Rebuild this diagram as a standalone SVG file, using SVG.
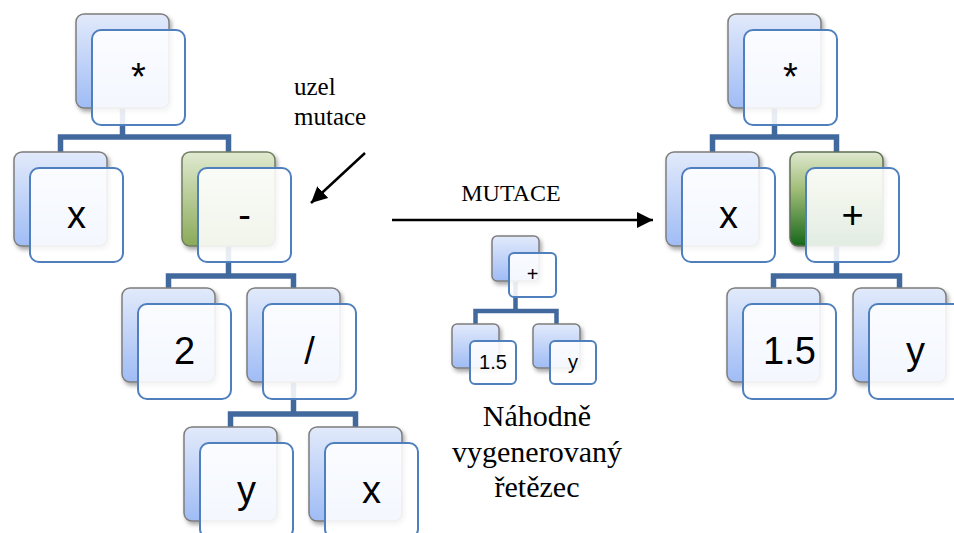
<svg xmlns="http://www.w3.org/2000/svg" width="954" height="533" viewBox="0 0 954 533">
  <defs>
    <linearGradient id="gBlue" x1="0" y1="0" x2="0" y2="1">
      <stop offset="0" stop-color="#e2eafb"/>
      <stop offset="1" stop-color="#9fbcf5"/>
    </linearGradient>
    <linearGradient id="gGreenLight" x1="0" y1="0" x2="0" y2="1">
      <stop offset="0" stop-color="#e0ead0"/>
      <stop offset="1" stop-color="#8aaa58"/>
    </linearGradient>
    <linearGradient id="gGreenDark" x1="0" y1="0" x2="0" y2="1">
      <stop offset="0" stop-color="#dfe8cf"/>
      <stop offset="0.4" stop-color="#a0bd78"/>
      <stop offset="1" stop-color="#16661a"/>
    </linearGradient>
    <filter id="shadow" x="-20%" y="-20%" width="150%" height="150%">
      <feDropShadow dx="2" dy="3" stdDeviation="2" flood-color="#000" flood-opacity="0.35"/>
    </filter>
    <marker id="arrow" markerUnits="userSpaceOnUse" markerWidth="18" markerHeight="16" refX="16" refY="8" orient="auto">
      <path d="M0,0 L16,8 L0,16 z" fill="#000"/>
    </marker>
  </defs>
  <style>
    .back { stroke: #7d7d7d; stroke-width: 1.5; filter: url(#shadow); }
    .blue { fill: url(#gBlue); }
    .greenL { fill: url(#gGreenLight); stroke: #6f7d5f; }
    .greenD { fill: url(#gGreenDark); stroke: #5f6f55; }
    .front { fill: #ffffff; fill-opacity: 0.88; stroke: #4f7fbd; stroke-width: 2; }
    .big { font-family: "Liberation Sans", Arial, sans-serif; font-size: 38px; text-anchor: middle; fill: #000; }
    .small { font-family: "Liberation Sans", Arial, sans-serif; font-size: 20px; text-anchor: middle; fill: #000; }
    .serif { font-family: "Liberation Serif", "Times New Roman", serif; fill: #000; }
    .link { fill: none; stroke: #41699e; stroke-width: 5.5; stroke-linejoin: miter; }
    .linkS { fill: none; stroke: #41699e; stroke-width: 4.5; stroke-linejoin: miter; }
    .arr { fill: none; stroke: #000; stroke-width: 2.5; }
  </style>

  <!-- tree connectors -->
  <g id="connectors">
    <!-- left tree -->
    <path class="link" d="M122.5,108 V137 M60.5,152 V137 H228.5 V152"/>
    <path class="link" d="M228.5,246 V276 M168.5,288 V276 H293.5 V288"/>
    <path class="link" d="M293.5,382 V414 M230.5,427 V414 H355.5 V427"/>
    <!-- right tree -->
    <path class="link" d="M774.5,108 V137 M712.5,152 V137 H836.5 V152"/>
    <path class="link" d="M836.5,246 V276 M773.5,288 V276 H899.5 V288"/>
    <!-- generated subtree -->
    <path class="linkS" d="M515.5,280 V311 M475.5,324 V311 H556.5 V324"/>
    <!-- arrows -->
    <line class="arr" x1="392" y1="220" x2="653" y2="220" marker-end="url(#arrow)"/>
    <line class="arr" x1="365" y1="153" x2="311" y2="203" marker-end="url(#arrow)"/>
  </g>

  <!-- left tree nodes -->
  <g id="L-mul">
    <rect class="back blue" x="76" y="14" width="93" height="94" rx="8"/>
    <rect class="front" x="92" y="30" width="93" height="95" rx="9"/>
    <text class="big" x="138.5" y="90">*</text>
  </g>
  <g id="L-x1">
    <rect class="back blue" x="14" y="152" width="93" height="94" rx="8"/>
    <rect class="front" x="30" y="168" width="93" height="94" rx="9"/>
    <text class="big" x="76.5" y="228">x</text>
  </g>
  <g id="L-minus">
    <rect class="back greenL" x="182" y="152" width="93" height="94" rx="8"/>
    <rect class="front" x="198" y="168" width="93" height="94" rx="9"/>
    <text class="big" x="244.5" y="228">-</text>
  </g>
  <g id="L-2">
    <rect class="back blue" x="122" y="288" width="93" height="94" rx="8"/>
    <rect class="front" x="138" y="304" width="93" height="95" rx="9"/>
    <text class="big" x="184.5" y="364">2</text>
  </g>
  <g id="L-div">
    <rect class="back blue" x="247" y="288" width="93" height="94" rx="8"/>
    <rect class="front" x="263" y="304" width="93" height="95" rx="9"/>
    <text class="big" x="309.5" y="364">/</text>
  </g>
  <g id="L-y">
    <rect class="back blue" x="184" y="427" width="93" height="94" rx="8"/>
    <rect class="front" x="200" y="443" width="93" height="95" rx="9"/>
    <text class="big" x="246.5" y="503">y</text>
  </g>
  <g id="L-x2">
    <rect class="back blue" x="309" y="427" width="93" height="94" rx="8"/>
    <rect class="front" x="325" y="443" width="93" height="95" rx="9"/>
    <text class="big" x="371.5" y="503">x</text>
  </g>

  <!-- randomly generated subtree -->
  <g id="S-plus">
    <rect class="back blue" x="492" y="236" width="47" height="45" rx="5"/>
    <rect class="front" x="509" y="253" width="47" height="44" rx="5"/>
    <text class="small" x="532.5" y="281">+</text>
  </g>
  <g id="S-15">
    <rect class="back blue" x="452" y="324" width="47" height="44" rx="5"/>
    <rect class="front" x="470" y="341" width="46" height="43" rx="5"/>
    <text class="small" x="493" y="369">1.5</text>
  </g>
  <g id="S-y">
    <rect class="back blue" x="533" y="324" width="47" height="44" rx="5"/>
    <rect class="front" x="550" y="341" width="46" height="43" rx="5"/>
    <text class="small" x="573" y="369">y</text>
  </g>

  <!-- right tree nodes -->
  <g id="R-mul">
    <rect class="back blue" x="728" y="14" width="93" height="94" rx="8"/>
    <rect class="front" x="744" y="30" width="93" height="95" rx="9"/>
    <text class="big" x="790.5" y="90">*</text>
  </g>
  <g id="R-x">
    <rect class="back blue" x="666" y="152" width="93" height="94" rx="8"/>
    <rect class="front" x="682" y="168" width="93" height="94" rx="9"/>
    <text class="big" x="728.5" y="228">x</text>
  </g>
  <g id="R-plus">
    <rect class="back greenD" x="790" y="152" width="93" height="94" rx="8"/>
    <rect class="front" x="806" y="168" width="93" height="94" rx="9"/>
    <text class="big" x="852.5" y="228">+</text>
  </g>
  <g id="R-15">
    <rect class="back blue" x="727" y="288" width="93" height="94" rx="8"/>
    <rect class="front" x="743" y="304" width="93" height="95" rx="9"/>
    <text class="big" x="789.5" y="364">1.5</text>
  </g>
  <g id="R-y">
    <rect class="back blue" x="853" y="288" width="93" height="94" rx="8"/>
    <rect class="front" x="869" y="304" width="93" height="95" rx="9"/>
    <text class="big" x="915.5" y="364">y</text>
  </g>

  <!-- labels -->
  <g id="labels">
    <text class="serif" x="294" y="95" font-size="25">uzel</text>
    <text class="serif" x="294" y="125" font-size="25">mutace</text>
    <text class="serif" x="511" y="201" font-size="24" text-anchor="middle">MUTACE</text>
    <text class="serif" x="537" y="426" font-size="30" text-anchor="middle">Náhodně</text>
    <text class="serif" x="537" y="462" font-size="30" text-anchor="middle">vygenerovaný</text>
    <text class="serif" x="537" y="497" font-size="30" text-anchor="middle">řetězec</text>
  </g>
</svg>
